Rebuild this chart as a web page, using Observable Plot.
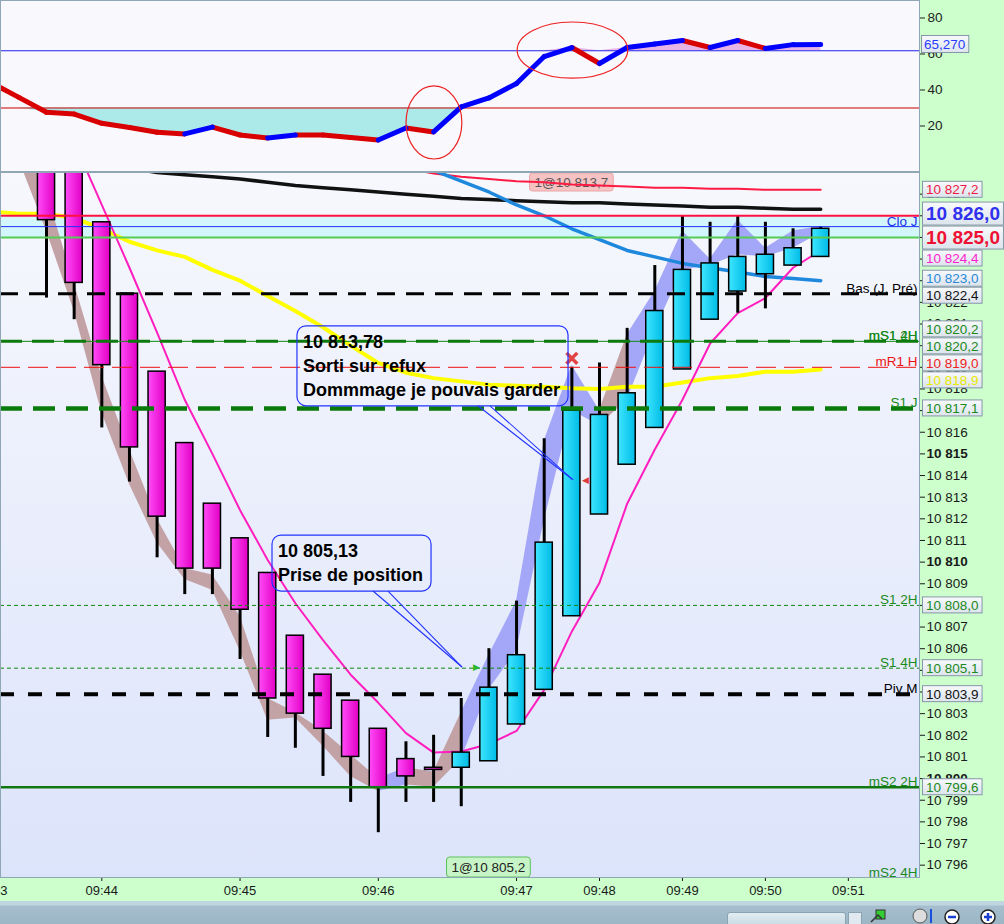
<!DOCTYPE html>
<html lang="fr">
<head>
<meta charset="utf-8">
<title>Graphique intraday</title>
<script src="https://cdn.jsdelivr.net/npm/d3@7"></script>
<script src="https://cdn.jsdelivr.net/npm/@observablehq/plot@0.6"></script>
<style>
html, body { margin:0; padding:0; width:1004px; height:924px; overflow:hidden; background:#ccffcc; font-family:"Liberation Sans", Arial, sans-serif; }
.panel { position:absolute; left:0; width:1004px; overflow:hidden; }
#osc { top:0; height:172px; }
#price { top:172px; height:729px; }
#bar { position:absolute; left:0; top:901px; width:1004px; height:23px; background:linear-gradient(#bfd5e0 0, #bfd5e0 4px, #a6becd 5px, #9db6c6 100%); }
#thumb { position:absolute; left:727px; top:11px; width:117px; height:14px; border:1px solid #8aa4b4; border-radius:3px; background:linear-gradient(#e2ecf2,#c6d8e2); }
#btn { position:absolute; left:848px; top:11px; width:12px; height:14px; border:1px solid #8aa4b4; background:#dfe9ef; }
#icons { position:absolute; left:868px; top:5px; }
</style>
</head>
<body>
<svg width="0" height="0" style="position:absolute">
  <defs>
    <linearGradient id="magGrad" x1="0" x2="1" y1="0" y2="0">
      <stop offset="0" stop-color="#ff4cf8"/><stop offset="1" stop-color="#e200c4"/>
    </linearGradient>
    <linearGradient id="cyanGrad" x1="0" x2="1" y1="0" y2="0">
      <stop offset="0" stop-color="#3ee6ff"/><stop offset="1" stop-color="#00bbe6"/>
    </linearGradient>
    <linearGradient id="bgGrad" x1="0" x2="0" y1="0" y2="1">
      <stop offset="0" stop-color="#f7f8fd"/><stop offset="1" stop-color="#dce4fb"/>
    </linearGradient>
    <linearGradient id="boxGrad" x1="0" x2="0" y1="0" y2="1">
      <stop offset="0" stop-color="#f7f9fc"/><stop offset="1" stop-color="#dde4ec"/>
    </linearGradient>
  </defs>
</svg>
<div id="osc" class="panel"></div>
<div id="price" class="panel"></div>
<div id="bar">
  <div id="thumb"></div><div id="btn"></div>
  <svg id="icons" width="136" height="18">
    <rect x="8" y="4" width="9" height="9" fill="#3c3" stroke="#333"/>
    <path d="M3 16 L10 9 L14 13" stroke="#333" fill="none" stroke-width="1.5"/>
    <circle cx="52" cy="10" r="7" fill="#ddd" stroke="#555"/>
    <path d="M63 3 V17" stroke="#1a4fe0" stroke-width="2"/>
    <circle cx="84" cy="11" r="7" fill="#fff" stroke="#222" stroke-width="1.5"/>
    <path d="M80 11 H88" stroke="#1a3fd0" stroke-width="2.5"/>
    <circle cx="120" cy="11" r="7" fill="#fff" stroke="#222" stroke-width="1.5"/>
    <path d="M116 11 H124 M120 7 V15" stroke="#1a3fd0" stroke-width="2.5"/>
  </svg>
</div>
<script>
// ================= DATA =================
// Candles (bar index 0 .. 28)
const candleIndex = d3.range(0, 29);
const openP  = [10830.0, 10829.8, 10825.7, 10822.4, 10818.8, 10815.5, 10812.7, 10811.1, 10809.5, 10806.6, 10804.8, 10803.6, 10802.3, 10800.9, 10800.5, 10800.5, 10800.8, 10802.5, 10804.1, 10807.5, 10812.2, 10814.5, 10816.2, 10818.9, 10821.2, 10822.5, 10823.3, 10823.7, 10824.1];
const highP  = [10830.5, 10830.2, 10825.7, 10822.4, 10818.8, 10815.5, 10812.7, 10811.1, 10809.5, 10806.6, 10804.8, 10803.6, 10802.3, 10801.7, 10802.0, 10803.7, 10806.0, 10808.2, 10815.7, 10819.0, 10819.2, 10820.8, 10823.7, 10826.0, 10825.7, 10826.0, 10825.7, 10825.4, 10825.5];
const lowP   = [10822.2, 10821.2, 10816.2, 10813.7, 10810.2, 10808.5, 10808.5, 10805.5, 10801.9, 10801.4, 10800.1, 10798.9, 10797.5, 10798.9, 10798.9, 10798.7, 10800.8, 10802.5, 10804.1, 10807.5, 10812.2, 10814.5, 10816.2, 10818.9, 10821.2, 10821.5, 10821.7, 10823.7, 10824.1];
const closeP = [10825.8, 10822.9, 10819.1, 10815.3, 10812.1, 10809.7, 10809.7, 10807.8, 10803.7, 10803.0, 10802.3, 10801.0, 10799.6, 10800.1, 10800.4, 10801.2, 10804.2, 10805.7, 10810.9, 10817.0, 10816.8, 10817.8, 10821.6, 10823.5, 10823.8, 10824.1, 10824.2, 10824.5, 10825.4];

// Moving averages (first bar index + values)
const fastMAStart = 0;
const fastMA = [10831.5, 10829.4, 10826.5, 10823.6, 10820.6, 10817.5, 10815.0, 10812.4, 10810.1, 10808.1, 10806.4, 10804.8, 10803.5, 10802.1, 10801.2, 10801.25, 10801.6, 10802.2, 10804.1, 10806.8, 10809.05, 10812.7, 10815.2, 10817.5, 10820.1, 10821.5, 10822.2, 10823.6, 10824.4];
const yellowMAStart = -2;
const yellowMA = [10826.2, 10826.1, 10826.1, 10825.9, 10825.4, 10824.8, 10824.4, 10824.1, 10823.5, 10823.0, 10822.3, 10821.6, 10820.85, 10820.0, 10819.2, 10818.75, 10818.5, 10818.35, 10818.2, 10818.15, 10818.1, 10818.03, 10818.0, 10818.1, 10818.1, 10818.3, 10818.5, 10818.6, 10818.8, 10818.8, 10818.9];
const blueMAStart = 13;
const blueMA = [10829.0, 10828.1, 10827.6, 10827.1, 10826.5, 10826.0, 10825.4, 10824.9, 10824.4, 10824.1, 10823.8, 10823.6, 10823.4, 10823.2, 10823.1, 10823.0];
const blackMAStart = 3;
const blackMA = [10828.2, 10828.0, 10827.9, 10827.8, 10827.7, 10827.55, 10827.4, 10827.3, 10827.2, 10827.1, 10827.0, 10826.9, 10826.8, 10826.75, 10826.7, 10826.65, 10826.6, 10826.6, 10826.55, 10826.5, 10826.45, 10826.4, 10826.4, 10826.35, 10826.3, 10826.3];
const redMAStart = 13;
const redMA = [10828.2, 10827.95, 10827.8, 10827.7, 10827.6, 10827.55, 10827.45, 10827.4, 10827.35, 10827.3, 10827.3, 10827.25, 10827.25, 10827.2, 10827.2, 10827.2];

// Trend ribbon (bar index -1 .. 28): upper / lower edge, d = baisse, u = hausse
const bandStart = -1;
const bandHi = [10830.0, 10827.1, 10822.9, 10818.6, 10815.2, 10812.0, 10809.7, 10809.4, 10807.5, 10803.7, 10803.05, 10802.2, 10801.1, 10800.0, 10800.5, 10800.3, 10803.05, 10805.7, 10808.2, 10815.6, 10819.1, 10817.0, 10820.5, 10822.5, 10825.3, 10824.0, 10825.8, 10824.5, 10825.3, 10825.5];
const bandLo = [10828.6, 10825.3, 10821.6, 10816.9, 10813.6, 10810.9, 10809.2, 10808.7, 10805.9, 10802.7, 10802.8, 10801.5, 10800.1, 10799.4, 10799.7, 10799.6, 10800.9, 10804.1, 10805.9, 10811.9, 10817.0, 10816.3, 10817.5, 10820.7, 10823.5, 10823.7, 10824.2, 10824.1, 10824.5, 10825.2];
const bandTrend = "ddddddddddddddudduuuuuduuuuuuuu".slice(0, 30);

// Oscillator (upper panel), bar index -2 .. 28
const oscStart = -2;
const oscValues = [44.0, 35.9, 27.6, 26.6, 21.5, 19.2, 16.5, 15.6, 19.4, 15.0, 13.3, 15.0, 15.0, 13.6, 12.2, 18.9, 16.7, 30.6, 35.6, 43.6, 58.6, 63.6, 54.7, 63.6, 65.6, 67.5, 63.6, 67.5, 63.1, 65.2, 65.27];
const oscLowLevel = 30;
const oscHighLevel = 61.8;
const oscTicks = [20, 40, 60, 80];
const oscCircles = [{i: 14.03, v: 21.7, ri: 1.01, rv: 20.3}, {i: 19.04, v: 61.9, ri: 2.0, rv: 15.6}];

// Horizontal levels
const levelValues = [10826.0, 10825.5, 10825.0, 10822.4, 10820.2, 10820.2, 10819.0, 10817.1, 10808.0, 10805.1, 10803.9, 10799.6, 10794.8];
const levelNames  = ["", "Clo J", "", "Bas (J, Pré)", "mS1 4H", "mS1 2H", "mR1 H", "S1 J", "S1 2H", "S1 4H", "Piv M", "mS2 2H", "mS2 4H"];

// Right-hand value tags
const tagValues = [10827.2, 10826.0, 10825.0, 10824.4, 10823.0, 10822.4, 10820.2, 10820.2, 10819.0, 10818.9, 10817.1, 10808.0, 10805.1, 10803.9, 10799.6];

// Time axis
const timeTickIndex  = [-2, 2, 7, 12, 17, 20, 23, 26, 29];
const timeTickLabels = ["09:43", "09:44", "09:45", "09:46", "09:47", "09:48", "09:49", "09:50", "09:51"];
const priceTicks = d3.range(10796, 10828);

// Trades
const tradeIndex = [16, 19];
const tradePrice = [10805.13, 10813.78];
const tradeFill  = [10805.2, 10813.7];
const tradeSide  = ["entry", "exit"];
const calloutText = [["10 805,13", "Prise de position"], ["10 813,78", "Sorti sur refux", "Dommmage je pouvais garder"]];

// ================= STYLES / LAYOUT =================
const FONT = '"Liberation Sans", Arial, sans-serif';
const xDomain = [-1.664, 31.573];
const priceDomain = [10795.43, 10828.0];
const oscDomain = [-5.28, 89.72];
const bodyHalf = 0.31;
const levelStyle = [
  {stroke: "#ff1040", w: 2},
  {stroke: "#2030ff", w: 1, lc: "#2233ee"},
  {stroke: "#55cc55", w: 2},
  {stroke: "#000000", w: 3, dash: "18,11", lc: "#000"},
  {stroke: "#118811", w: 1, lc: "#1a8a1a"},
  {stroke: "#0c7a0c", w: 3, dash: "22,10", lc: "#1a8a1a"},
  {stroke: "#ee1111", w: 1, dash: "20,8", lc: "#ee1111"},
  {stroke: "#0a7a0a", w: 4.5, dash: "22,11", lc: "#1a8a1a"},
  {stroke: "#118811", w: 1, dash: "4,3", lc: "#1a8a1a"},
  {stroke: "#118811", w: 1, dash: "4,3", lc: "#1a8a1a"},
  {stroke: "#000000", w: 4, dash: "14,14", lc: "#000"},
  {stroke: "#117711", w: 2.5, lc: "#1a8a1a"},
  {stroke: "#117711", w: 1, lc: "#1a8a1a"}
];
const tagStyle = [
  {c: "#ee1a44"}, {c: "#3030ee", big: true}, {c: "#ee1133", big: true}, {c: "#ff1fd0"},
  {c: "#2a8ad8"}, {c: "#111"}, {c: "#1a8a1a"}, {c: "#1a8a1a"}, {c: "#ee2222"},
  {c: "#e8e800"}, {c: "#1a8a1a"}, {c: "#1a8a1a"}, {c: "#1a8a1a"}, {c: "#111"}, {c: "#1a8a1a"}
];
const calloutLayout = [
  {tipDx: -26.4, boxDx: -190, boxDy: -132, base: [-89, -74]},
  {tipDx: 1.6, boxDx: -276, boxDy: -154, base: [-95, -83]}
];

// ================= HELPERS =================
function frNum(v, dec) {
  const s = Math.abs(v).toFixed(dec);
  const [a, b] = s.split(".");
  return (v < 0 ? "-" : "") + a.replace(/\B(?=(\d{3})+(?!\d))/g, " ") + (b ? "," + b : "");
}
const ctx = document.createElement("canvas").getContext("2d");
function textW(s, font) { ctx.font = font; return ctx.measureText(s).width; }
const series = (start, vals) => vals.map((v, k) => ({i: start + k, v}));

const candles = candleIndex.map((i, k) => ({i, o: openP[k], h: highP[k], l: lowP[k], c: closeP[k]}));
const bear = candles.filter(d => d.c <= d.o);
const bull = candles.filter(d => d.c > d.o);

const bandRows = [];
for (let k = 0; k < bandHi.length - 1; k++) {
  const trend = bandTrend[k + 1];
  for (const kk of [k, k + 1]) bandRows.push({seg: k, trend, i: bandStart + kk, hi: bandHi[kk], lo: bandLo[kk]});
}

const osc = series(oscStart, oscValues);
const oscSeg = d3.pairs(osc).map(([a, b]) => ({x1: a.i, y1: a.v, x2: b.i, y2: b.v, up: b.v > a.v}));

// ================= UPPER PANEL =================
const oscOverlay = (index, {x, y}, values, dims) => {
  const g = d3.create("svg:g");
  for (const e of oscCircles) {
    g.append("ellipse")
      .attr("cx", x(e.i)).attr("cy", y(e.v))
      .attr("rx", Math.abs(x(e.i + e.ri) - x(e.i))).attr("ry", Math.abs(y(e.v + e.rv) - y(e.v)))
      .attr("fill", "none").attr("stroke", "#ee2222").attr("stroke-width", 1.2);
  }
  const last = oscValues[oscValues.length - 1];
  const xr = dims.width - dims.marginRight;
  const yc = y(last);
  const txt = frNum(last, 3);
  const w = textW(txt, `13.5px ${FONT}`) + 6;
  g.append("rect").attr("x", xr + 2.5).attr("y", yc - 8.5).attr("width", w).attr("height", 17)
    .attr("fill", "url(#boxGrad)").attr("stroke", "#8796a8");
  g.append("text").attr("x", xr + 5).attr("y", yc).attr("dy", "0.36em").attr("text-anchor", "start")
    .attr("font-family", FONT).attr("font-size", 13.5).attr("fill", "#2a3cff").text(txt);
  return g.node();
};

const oscPlot = Plot.plot({
  width: 1004, height: 172, marginTop: 0, marginBottom: 1, marginLeft: 0, marginRight: 85,
  style: {background: "#ccffcc", fontFamily: FONT, color: "#222", overflow: "hidden"},
  x: {type: "linear", domain: xDomain, axis: null},
  y: {domain: oscDomain},
  marks: [
    Plot.frame({fill: "#f8f8fd"}),
    Plot.areaY(osc, {x: "i", y1: oscLowLevel, y2: d => Math.min(d.v, oscLowLevel), fill: "#aceaea", clip: true}),
    Plot.areaY(osc, {x: "i", y1: oscHighLevel, y2: d => Math.max(d.v, oscHighLevel), fill: "#e8b4e6", clip: true}),
    Plot.ruleY([oscLowLevel], {stroke: "#cc0000", strokeWidth: 1}),
    Plot.ruleY([oscHighLevel], {stroke: "#2222ee", strokeWidth: 1}),
    Plot.link(oscSeg.filter(d => !d.up), {x1: "x1", y1: "y1", x2: "x2", y2: "y2", stroke: "#d80000", strokeWidth: 5, strokeLinecap: "round", clip: true}),
    Plot.link(oscSeg.filter(d => d.up), {x1: "x1", y1: "y1", x2: "x2", y2: "y2", stroke: "#0000ff", strokeWidth: 5, strokeLinecap: "round", clip: true}),
    Plot.axisY({anchor: "right", label: null, ticks: oscTicks, tickSize: 5, tickPadding: 3, fontSize: 13.5, tickFormat: d => String(d)}),
    Plot.frame({stroke: "#8fa6b4"}),
    oscOverlay
  ]
});
document.getElementById("osc").append(oscPlot);

// ================= MAIN PANEL =================
const tradeLabel = (k) => (index, {x, y}, values, dims) => {
  const g = d3.create("svg:g");
  const txt = "1@" + frNum(tradeFill[k], 1);
  const w = textW(txt, `13.5px ${FONT}`) + 10;
  const cx = x(tradeIndex[k]);
  const isEntry = tradeSide[k] === "entry";
  const h = isEntry ? 20 : 18;
  const top = isEntry ? dims.height - dims.marginBottom - h : dims.marginTop + 1;
  g.append("rect").attr("x", cx - w / 2).attr("y", top).attr("width", w).attr("height", h).attr("rx", 3)
    .attr("fill", isEntry ? "#c6f4c6" : "#f5c3c3").attr("stroke", isEntry ? "#5cc25c" : "#eaa4a4");
  g.append("text").attr("x", cx).attr("y", top + h / 2).attr("dy", "0.36em").attr("text-anchor", "middle")
    .attr("font-family", FONT).attr("font-size", 13.5).attr("fill", isEntry ? "#222" : "#555").text(txt);
  return g.node();
};

const calloutMark = (index, {x, y}) => {
  const g = d3.create("svg:g");
  const f = `bold 18px ${FONT}`;
  calloutText.forEach((lines, k) => {
    const L = calloutLayout[k];
    const tx = x(tradeIndex[k]) + L.tipDx, ty = y(tradePrice[k]);
    const left = tx + L.boxDx, top = ty + L.boxDy;
    const w = d3.max(lines, s => textW(s, f)) + 14;
    const h = 8 + lines.length * 24;
    g.append("rect").attr("x", left).attr("y", top).attr("width", w).attr("height", h).attr("rx", 9)
      .attr("fill", "none").attr("stroke", "#2233ff").attr("stroke-width", 1.2);
    for (const b of L.base) {
      g.append("line").attr("x1", tx + b).attr("y1", top + h).attr("x2", tx).attr("y2", ty)
        .attr("stroke", "#2233ff").attr("stroke-width", 1.1);
    }
    lines.forEach((s, j) => {
      g.append("text").attr("x", left + 6).attr("y", top + 22 + j * 24).attr("text-anchor", "start")
        .attr("font-family", FONT).attr("font-size", 18).attr("font-weight", "bold").attr("fill", "#000").text(s);
    });
  });
  return g.node();
};

const tagMark = (index, {y}, values, dims) => {
  const g = d3.create("svg:g");
  const xr = dims.width - dims.marginRight;
  const gap = 1;
  const items = tagValues.map((v, k) => ({v, k, st: tagStyle[k], h: tagStyle[k].big ? 23 : 16, y0: y(v)}));
  const sorted = items.slice().sort((a, b) => a.y0 - b.y0 || a.k - b.k);
  const clusters = sorted.map(d => ({items: [d]}));
  const layout = c => {
    const H = d3.sum(c.items, d => d.h + gap);
    const m = d3.mean(c.items, d => d.y0);
    c.top = m - H / 2; c.bottom = c.top + H;
  };
  clusters.forEach(layout);
  let merged = true;
  while (merged) {
    merged = false;
    for (let j = 1; j < clusters.length; j++) {
      if (clusters[j].top < clusters[j - 1].bottom) {
        clusters[j - 1].items.push(...clusters[j].items);
        layout(clusters[j - 1]);
        clusters.splice(j, 1);
        merged = true; break;
      }
    }
  }
  clusters.forEach(c => { let t = c.top; c.items.forEach(d => { d.yc = t + gap / 2 + d.h / 2; t += d.h + gap; }); });
  const order = items.slice().sort((a, b) => (a.st.big ? 1 : 0) - (b.st.big ? 1 : 0) || a.k - b.k);
  for (const d of order) {
    const txt = frNum(d.v, 1);
    const fs = d.st.big ? 19 : 13.5;
    const fw = d.st.big ? "bold" : "normal";
    const w = textW(txt, `${fw} ${fs}px ${FONT}`) + 7;
    g.append("rect").attr("x", xr + 3.5).attr("y", d.yc - d.h / 2).attr("width", w).attr("height", d.h)
      .attr("fill", "url(#boxGrad)").attr("stroke", "#8796a8");
    g.append("text").attr("x", xr + 7).attr("y", d.yc).attr("dy", "0.36em").attr("text-anchor", "start")
      .attr("font-family", FONT).attr("font-size", fs).attr("font-weight", fw).attr("fill", d.st.c).text(txt);
  }
  return g.node();
};

const mainMarks = [
  Plot.frame({fill: "url(#bgGrad)"}),
  Plot.rect([{lo: levelValues[2], hi: levelValues[0]}], {y1: "lo", y2: "hi", fill: "#d2f6fb"}),
  tradeLabel(1),
  Plot.areaY(bandRows.filter(d => d.trend === "d"), {x: "i", y1: "lo", y2: "hi", z: "seg", fill: "#c3a2a6", clip: true}),
  Plot.areaY(bandRows.filter(d => d.trend === "u"), {x: "i", y1: "lo", y2: "hi", z: "seg", fill: "#a4a7f7", clip: true}),
  Plot.line(series(blackMAStart, blackMA), {x: "i", y: "v", stroke: "#111", strokeWidth: 3.5, clip: true}),
  Plot.line(series(redMAStart, redMA), {x: "i", y: "v", stroke: "#ff1a44", strokeWidth: 2, clip: true}),
  Plot.line(series(blueMAStart, blueMA), {x: "i", y: "v", stroke: "#1e88dd", strokeWidth: 3.5, clip: true}),
  Plot.line(series(yellowMAStart, yellowMA), {x: "i", y: "v", stroke: "#ffff00", strokeWidth: 4, clip: true}),
  Plot.line(series(fastMAStart, fastMA), {x: "i", y: "v", stroke: "#ff1fbf", strokeWidth: 2, clip: true}),
  Plot.ruleX(candles, {x: "i", y1: "l", y2: "h", stroke: "#000", strokeWidth: 3, clip: true}),
  Plot.rect(bear, {x1: d => d.i - bodyHalf, x2: d => d.i + bodyHalf, y1: "o", y2: "c", fill: "url(#magGrad)", stroke: "#000", strokeWidth: 1.5, clip: true}),
  Plot.rect(bull, {x1: d => d.i - bodyHalf, x2: d => d.i + bodyHalf, y1: "o", y2: "c", fill: "url(#cyanGrad)", stroke: "#000", strokeWidth: 1.5, clip: true})
];

levelValues.forEach((v, k) => {
  const s = levelStyle[k];
  mainMarks.push(Plot.ruleY([v], {stroke: s.stroke, strokeWidth: s.w, strokeDasharray: s.dash, clip: true}));
});
levelValues.forEach((v, k) => {
  if (!levelNames[k]) return;
  const s = levelStyle[k];
  mainMarks.push(Plot.text([Math.max(v, priceDomain[0])], {y: d => d, text: () => levelNames[k], frameAnchor: "right",
    textAnchor: "end", lineAnchor: "bottom", dx: -2, dy: -1, fill: s.lc, fontSize: 13.5}));
});

mainMarks.push(
  Plot.text([0], {x: () => tradeIndex[0], y: () => tradePrice[0], text: () => "▶", dx: -12, fill: "#2ab52a", fontSize: 9}),
  Plot.text([1], {x: () => tradeIndex[1], y: () => tradePrice[1], text: () => "◀", dx: 14, fill: "#e03a3a", fontSize: 9}),
  Plot.dot([1], {x: () => tradeIndex[1], y: () => highP[tradeIndex[1]], dy: -9, symbol: "times", r: 5, stroke: "#e24444", strokeWidth: 3.5}),
  calloutMark,
  tradeLabel(0),
  Plot.axisY({anchor: "right", label: null, ticks: priceTicks.filter(d => d % 5 !== 0), tickSize: 5, tickPadding: 2, fontSize: 13.5, tickFormat: d => frNum(d, 0)}),
  Plot.axisY({anchor: "right", label: null, ticks: priceTicks.filter(d => d % 5 === 0), tickSize: 5, tickPadding: 2, fontSize: 13.5, fontWeight: "bold", tickFormat: d => frNum(d, 0)}),
  Plot.axisX({anchor: "bottom", label: null, ticks: timeTickIndex, tickSize: 4, tickPadding: 4, fontSize: 13, tickFormat: d => timeTickLabels[timeTickIndex.indexOf(d)]}),
  Plot.frame({stroke: "#8fa6b4"}),
  tagMark
);

const pricePlot = Plot.plot({
  width: 1004, height: 729, marginTop: 0, marginBottom: 24, marginLeft: 0, marginRight: 85,
  style: {background: "#ccffcc", fontFamily: FONT, color: "#1a1a1a", overflow: "hidden"},
  x: {type: "linear", domain: xDomain, label: null},
  y: {domain: priceDomain, label: null},
  marks: mainMarks
});
document.getElementById("price").append(pricePlot);
</script>
</body>
</html>
